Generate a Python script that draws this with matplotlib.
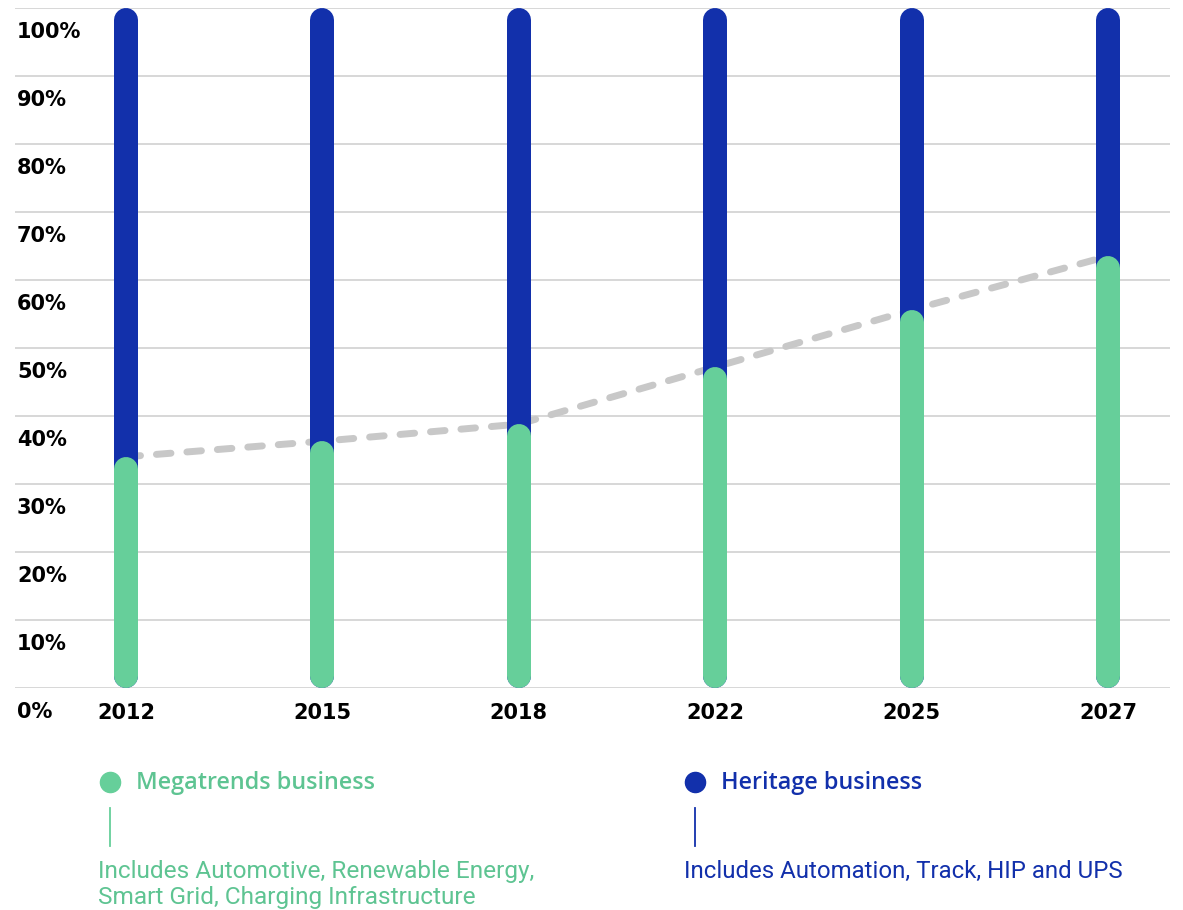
import matplotlib.pyplot as plt
from matplotlib.lines import Line2D

# ==============================
# Data
# ==============================

years = ["2012", "2015", "2018", "2022", "2025", "2027"]
megatrends = [34.0, 36.3, 38.8, 47.2, 55.6, 63.5]   # % share, rest is heritage
y_ticks = [0, 10, 20, 30, 40, 50, 60, 70, 80, 90, 100]
y_labels = ["0%", "10%", "20%", "30%", "40%", "50%", "60%", "70%", "80%", "90%", "100%"]

mega_title = "Megatrends business"
mega_desc = "Includes Automotive, Renewable Energy,\nSmart Grid, Charging Infrastructure"
heri_title = "Heritage business"
heri_desc = "Includes Automation, Track, HIP and UPS"

# ==============================
# Style
# ==============================

W, H = 1183, 910
GREEN = "#66CF9A"
GREEN_TXT = "#5EC492"
BLUE = "#1230AB"
GRID = "#d4d4d4"
DASH = "#c8c8c8"

bar_px = 24
bar_lw = bar_px * 0.72
px_per_unit = 6.8          # 680 px for 100 %
r = bar_px / 2 / px_per_unit

fig = plt.figure(figsize=(W / 100, H / 100), dpi=100)
ax = fig.add_axes([15 / W, 1 - 688 / H, (1170 - 15) / W, 680 / H])

x = list(range(len(years)))
ax.set_xlim(-0.565, 5.316)
ax.set_ylim(0, 100)

# gridlines
for t in y_ticks:
    ax.axhline(t, color=GRID, lw=1.3, zorder=0)

# dashed trend line behind the bars
ax.plot(x, megatrends, color=DASH, lw=5, zorder=1,
        dashes=(2.1, 2.3), dash_capstyle="round")

# rounded bars
for i, v in zip(x, megatrends):
    ax.plot([i, i], [r, 100 - r], color=BLUE, lw=bar_lw,
            solid_capstyle="round", zorder=2)
    ax.plot([i, i], [r, v - r], color=GREEN, lw=bar_lw,
            solid_capstyle="round", zorder=3)

ax.set_xticks([])
ax.set_yticks([])
for s in ax.spines.values():
    s.set_visible(False)

# y labels sit below each gridline
for t, lab in zip(y_ticks, y_labels):
    ax.annotate(lab, xy=(0, t), xycoords=("axes fraction", "data"),
                xytext=(2, -24), textcoords="offset pixels",
                ha="left", va="center", fontsize=15, fontweight="bold",
                color="black", annotation_clip=False)

# year labels
for i, yr in zip(x, years):
    ax.annotate(yr, xy=(i, 0), xycoords="data",
                xytext=(0, -25), textcoords="offset pixels",
                ha="center", va="center", fontsize=15, fontweight="bold",
                color="black", annotation_clip=False)


# ==============================
# Legend block
# ==============================

def fx(px):
    return px / W


def fy(py):
    return 1 - py / H


def legend_block(dot_x, title, desc, desc_x, desc_size, dot_color, txt_color):
    fig.add_artist(Line2D([fx(dot_x)], [fy(782)], transform=fig.transFigure,
                          marker="o", markersize=14.5, color=dot_color, lw=0))
    fig.text(fx(dot_x + 26), fy(783), title, ha="left", va="center",
             fontsize=16.8, fontfamily="Open Sans", fontweight="semibold",
             color=txt_color)
    fig.add_artist(Line2D([fx(dot_x), fx(dot_x)], [fy(808), fy(846)],
                          transform=fig.transFigure, color=dot_color, lw=1.3))
    fig.text(fx(desc_x), fy(860), desc, ha="left", va="top",
             fontsize=desc_size, fontfamily="Roboto", color=txt_color,
             linespacing=1.17)


legend_block(110, mega_title, mega_desc, 98, 17.6, GREEN, GREEN_TXT)
legend_block(695, heri_title, heri_desc, 684, 17.3, BLUE, BLUE)

plt.savefig("out.png", dpi=100)
